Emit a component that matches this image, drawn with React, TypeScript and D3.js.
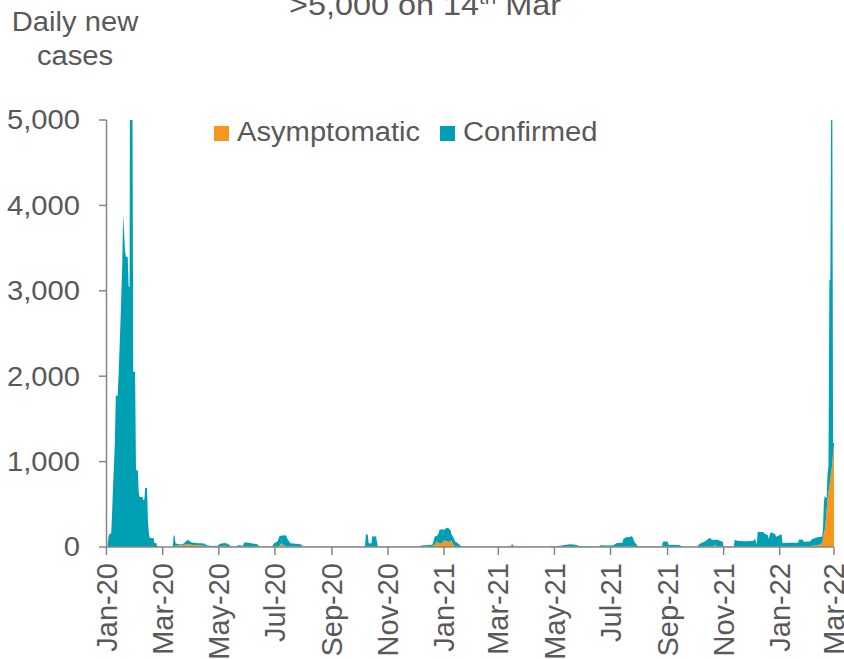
import React from "react";
import * as d3 from "d3";

// ---------- data ----------
const axisStart = "2020-01-16";
const axisEnd = "2022-03-16";

const xTickLabels = [
  "Jan-20", "Mar-20", "May-20", "Jul-20", "Sep-20", "Nov-20", "Jan-21",
  "Mar-21", "May-21", "Jul-21", "Sep-21", "Nov-21", "Jan-22", "Mar-22",
];
const yTicks = [0, 1000, 2000, 3000, 4000, 5000];

const dates = [
  "2020-01-16","2020-01-17","2020-01-18","2020-01-20","2020-01-21","2020-01-22","2020-01-23","2020-01-24",
  "2020-01-25","2020-01-27","2020-01-28","2020-01-29","2020-01-30","2020-01-31","2020-02-01","2020-02-02",
  "2020-02-03","2020-02-04","2020-02-05","2020-02-07","2020-02-08","2020-02-09","2020-02-10","2020-02-11",
  "2020-02-12","2020-02-13","2020-02-15","2020-02-16","2020-02-18","2020-02-19","2020-02-20","2020-02-23",
  "2020-02-24","2020-02-25","2020-02-26","2020-02-28","2020-02-29","2020-03-01","2020-03-02","2020-03-06",
  "2020-03-07","2020-03-09","2020-03-10","2020-03-11","2020-03-27","2020-03-28","2020-03-29","2020-03-30",
  "2020-04-05","2020-04-08","2020-04-11","2020-04-13","2020-04-16","2020-04-20","2020-04-30","2020-05-03",
  "2020-05-08","2020-05-15","2020-05-17","2020-05-22","2020-05-26","2020-05-29","2020-06-04","2020-06-06",
  "2020-06-09","2020-06-11","2020-06-13","2020-06-17","2020-06-22","2020-06-27","2020-06-29","2020-07-13",
  "2020-07-15","2020-07-19","2020-07-21","2020-07-23","2020-07-25","2020-07-28","2020-07-30","2020-08-02",
  "2020-08-13","2020-08-16","2020-10-20","2020-10-22","2020-10-23","2020-10-25","2020-10-26","2020-10-29",
  "2020-10-30","2020-11-03","2020-11-05","2020-12-20","2020-12-22","2021-01-03","2021-01-04","2021-01-06",
  "2021-01-08","2021-01-10","2021-01-11","2021-01-14","2021-01-16","2021-01-19","2021-01-21","2021-01-23",
  "2021-01-24","2021-01-26","2021-01-28","2021-01-30","2021-02-04","2021-03-29","2021-03-31","2021-04-02",
  "2021-04-05","2021-05-12","2021-05-13","2021-05-15","2021-05-27","2021-06-02","2021-06-08","2021-06-13",
  "2021-07-03","2021-07-05","2021-07-12","2021-07-19","2021-07-23","2021-07-29","2021-07-30","2021-08-03",
  "2021-08-06","2021-08-08","2021-08-09","2021-08-11","2021-08-15","2021-09-10","2021-09-11","2021-09-16",
  "2021-09-17","2021-09-29","2021-10-02","2021-10-18","2021-10-21","2021-10-27","2021-11-01","2021-11-03",
  "2021-11-07","2021-11-10","2021-11-12","2021-11-15","2021-11-16","2021-11-27","2021-11-28","2021-12-02",
  "2021-12-10","2021-12-18","2021-12-20","2021-12-22","2021-12-23","2021-12-29","2021-12-31","2022-01-03",
  "2022-01-04","2022-01-06","2022-01-11","2022-01-12","2022-01-18","2022-01-19","2022-01-24","2022-02-05",
  "2022-02-06","2022-02-10","2022-02-11","2022-02-18","2022-02-20","2022-02-25","2022-03-01","2022-03-02",
  "2022-03-03","2022-03-04","2022-03-05","2022-03-06","2022-03-07","2022-03-08","2022-03-09","2022-03-10",
  "2022-03-11","2022-03-12","2022-03-13","2022-03-14","2022-03-15","2022-03-16",
];

const asymptomatic = [
  0, 0, 0, 0, 0, 0, 0, 0,
  0, 0, 0, 0, 0, 0, 0, 0,
  0, 0, 0, 0, 0, 0, 0, 0,
  0, 0, 0, 0, 0, 0, 0, 0,
  0, 0, 0, 0, 0, 0, 0, 0,
  0, 0, 0, 0, 0, 0, 10, 15,
  20, 25, 30, 30, 25, 22, 15, 5,
  3, 3, 10, 15, 12, 3, 2, 3,
  3, 3, 5, 5, 3, 3, 2, 2,
  5, 8, 15, 45, 20, 12, 8, 5,
  3, 2, 2, 2, 3, 3, 3, 3,
  3, 3, 2, 2, 5, 10, 20, 30,
  66, 47, 47, 47, 78, 66, 60, 66,
  78, 30, 10, 3, 2, 2, 2, 2,
  1, 1, 1, 1, 2, 3, 2, 2,
  2, 3, 2, 2, 3, 4, 6, 8,
  5, 4, 3, 3, 2, 2, 3, 3,
  3, 2, 1, 1, 2, 3, 8, 10,
  20, 8, 5, 3, 1, 1, 2, 2,
  2, 2, 3, 3, 3, 3, 3, 3,
  3, 3, 3, 3, 3, 3, 3, 5,
  5, 5, 5, 8, 15, 20, 30, 40,
  43, 100, 160, 199, 300, 433, 560, 650,
  706, 800, 880, 950, 1100, 1194,
];

const confirmed = [
  0, 120, 150, 160, 400, 706, 950, 1218,
  1772, 1772, 2000, 2300, 2600, 2950, 3300, 3896,
  3700, 3478, 3400, 3400, 3048, 3048, 9000, 15152,
  6000, 2053, 2053, 900, 900, 632, 585, 585,
  550, 550, 690, 690, 300, 164, 105, 105,
  47, 47, 10, 0, 0, 140, 120, 25,
  10, 15, 45, 48, 30, 25, 25, 15,
  10, 12, 25, 32, 25, 5, 3, 17,
  15, 10, 50, 45, 38, 30, 5, 5,
  35, 60, 110, 90, 115, 125, 80, 40,
  28, 5, 5, 8, 145, 140, 40, 40,
  122, 120, 3, 3, 12, 15, 30, 95,
  60, 110, 156, 160, 125, 160, 160, 130,
  70, 87, 55, 50, 3, 3, 29, 8,
  3, 3, 14, 3, 20, 28, 25, 8,
  5, 17, 15, 18, 44, 45, 90, 108,
  110, 125, 115, 55, 6, 3, 62, 60,
  22, 20, 2, 3, 37, 63, 100, 76,
  65, 78, 65, 60, 3, 3, 84, 68,
  65, 68, 95, 30, 172, 172, 150, 137,
  95, 170, 150, 117, 147, 40, 47, 45,
  83, 80, 57, 55, 75, 90, 90, 80,
  77, 100, 367, 400, 280, 142, 300, 300,
  2420, 2326, 4500, 5000, 118, 24,
];

const seriesKeys = ["asymptomatic", "confirmed"];
const seriesLabels = ["Asymptomatic", "Confirmed"];
const seriesColors = ["#F7961D", "#00A0B4"];

// ---------- styles ----------
const W = 844;
const H = 659;
const plot = { axisX: 106.5, left: 107.5, right: 834, top: 120, bottom: 547 };
const textColor = "#595959";
const axisColor = "#868686";
const fontFamily = "'Liberation Sans', Arial, sans-serif";
const sx = 1.08;

export default function App() {
  const parse = d3.timeParse("%Y-%m-%d");
  const start = parse(axisStart) as Date;
  const end = parse(axisEnd) as Date;

  const rows = dates.map((d, i) => ({
    date: parse(d) as Date,
    asymptomatic: asymptomatic[i],
    confirmed: confirmed[i],
  }));

  const x = d3.scaleTime().domain([start, end]).range([plot.left, plot.right]);
  const y = d3.scaleLinear().domain([0, 5000]).range([plot.bottom, plot.top]);

  const layers = d3.stack<any>().keys(seriesKeys)(rows as any);
  const area = d3
    .area<any>()
    .x((d) => x(d.data.date))
    .y0((d) => y(d[0]))
    .y1((d) => y(d[1]))
    .curve(d3.curveLinear);

  const xTicks = xTickLabels.map((label, i) => ({
    label,
    date: d3.timeMonth.offset(start, i * 2),
  }));

  const fmt = d3.format(",");

  return (
    <svg
      width={W}
      height={H}
      style={{ position: "absolute", left: 0, top: 0, background: "#fff" }}
      fontFamily={fontFamily}
    >
      <defs>
        <clipPath id="plotClip">
          <rect
            x={plot.axisX}
            y={plot.top}
            width={plot.right - plot.axisX + 1}
            height={plot.bottom - plot.top}
          />
        </clipPath>
      </defs>

      {/* title (cut off at top) */}
      <text
        transform={`translate(289,15) scale(${sx},1)`}
        fontSize={30}
        fill={textColor}
      >
        {">5,000 on 14"}
        <tspan dy={-11} fontSize={19}>th</tspan>
        <tspan dy={11}>{"  Mar"}</tspan>
      </text>

      {/* y axis title */}
      <text transform={`translate(75,31) scale(${sx},1)`} fontSize={27} fill={textColor} textAnchor="middle">
        Daily new
      </text>
      <text transform={`translate(75,65) scale(${sx},1)`} fontSize={27} fill={textColor} textAnchor="middle">
        cases
      </text>

      {/* areas */}
      <g clipPath="url(#plotClip)">
        {layers.map((layer, i) => (
          <path key={seriesKeys[i]} d={area(layer as any) || ""} fill={seriesColors[i]} />
        ))}
      </g>

      {/* y axis */}
      <line x1={plot.axisX} x2={plot.axisX} y1={plot.top} y2={plot.bottom} stroke={axisColor} strokeWidth={1.5} />
      {yTicks.map((t) => (
        <g key={t}>
          <line x1={plot.axisX - 7.5} x2={plot.axisX} y1={y(t)} y2={y(t)} stroke={axisColor} strokeWidth={1.5} />
          <text
            transform={`translate(80,${y(t)}) scale(${sx},1)`}
            dy="0.35em"
            textAnchor="end"
            fontSize={27}
            fill={textColor}
          >
            {fmt(t)}
          </text>
        </g>
      ))}

      {/* x axis */}
      <line x1={plot.axisX} x2={plot.right} y1={plot.bottom} y2={plot.bottom} stroke={axisColor} strokeWidth={1.5} />
      {xTicks.map((t, i) => {
        const tx = i === 0 ? plot.axisX : x(t.date);
        return (
          <g key={t.label}>
            <line x1={tx} x2={tx} y1={plot.bottom} y2={plot.bottom + 8} stroke={axisColor} strokeWidth={1.5} />
            <text
              transform={`translate(${tx},563) rotate(-90)`}
              dy="0.35em"
              textAnchor="end"
              fontSize={29}
              fill={textColor}
            >
              {t.label}
            </text>
          </g>
        );
      })}

      {/* legend */}
      {seriesLabels.map((label, i) => {
        const lx = i === 0 ? 214 : 440;
        return (
          <g key={label}>
            <rect x={lx} y={126} width={15} height={15} fill={seriesColors[i]} />
            <text
              transform={`translate(${lx + 23},141) scale(${sx},1)`}
              fontSize={27}
              fill={textColor}
            >
              {label}
            </text>
          </g>
        );
      })}
    </svg>
  );
}
